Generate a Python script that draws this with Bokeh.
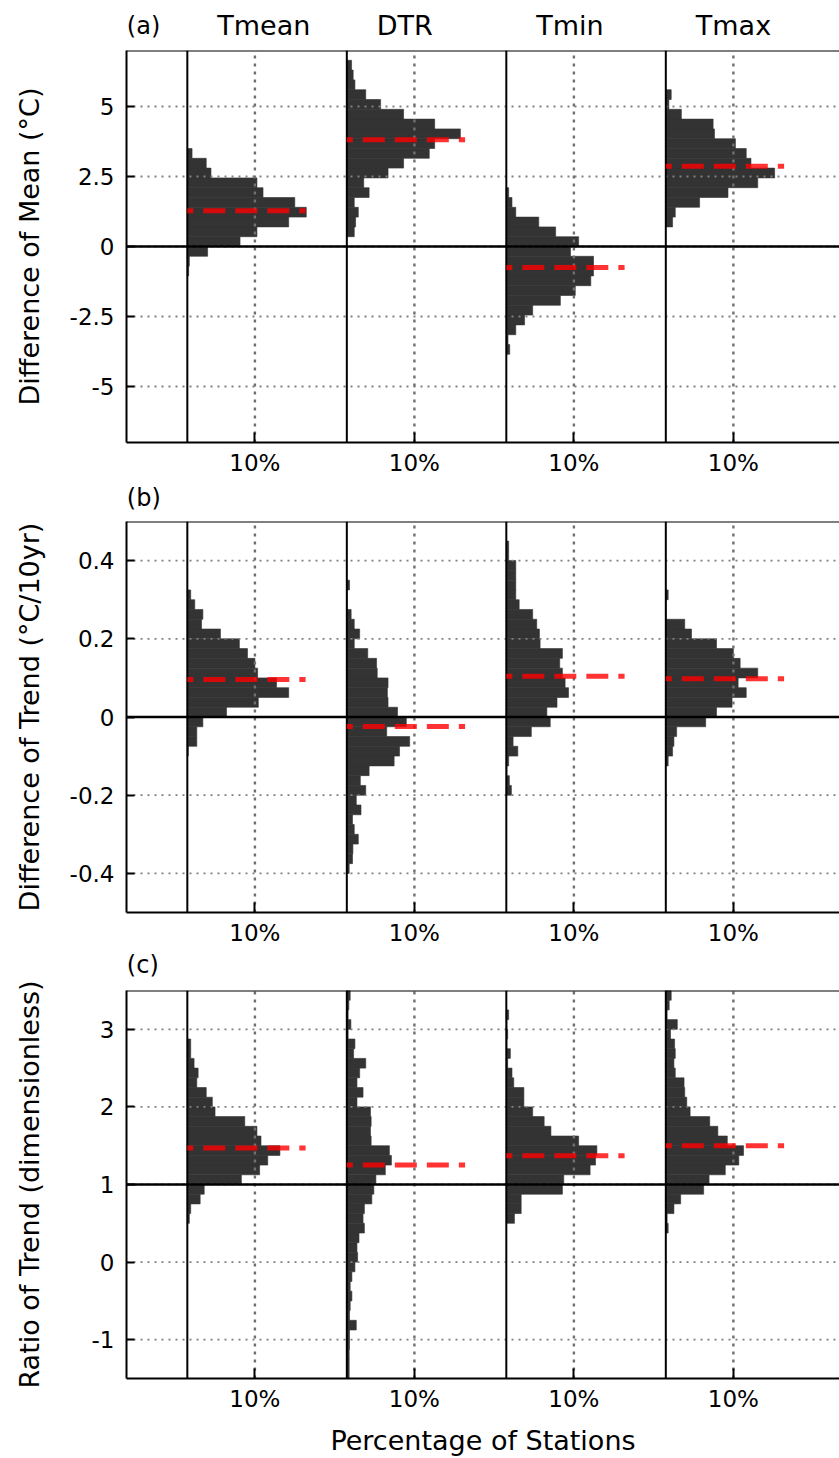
from bokeh.plotting import figure
from bokeh.layouts import column
from bokeh.models import Span, FixedTicker, CustomJSTickFormatter, Range1d
from bokeh.core.properties import value
from bokeh.embed import file_html
from bokeh.resources import INLINE

# ---------------- data ----------------
VARIABLES = ["Tmean", "DTR", "Tmin", "Tmax"]
PANEL_TAGS = ["(a)", "(b)", "(c)"]
Y_LABELS = ["Difference of Mean (°C)", "Difference of Trend (°C/10yr)",
            "Ratio of Trend (dimensionless)"]
X_LABEL = "Percentage of Stations"
X_TICK_VALUE = 10
X_TICK_LABEL = "10%"

# panel (a): difference of mean, bins of 0.35 degC
A_RANGE = (-7.0, 7.0)
A_BIN = 0.35
A_TICKS = [-5, -2.5, 0, 2.5, 5]
A_REF = 0
A_TMEAN_START = -1.05
A_TMEAN = [0.2, 0.3, 3.0, 7.8, 10.3, 15.0, 17.6, 15.9, 11.2, 10.3, 3.5, 2.8, 0.7]
A_DTR_START = 0.35
A_DTR = [1.1, 1.3, 1.7, 1.1, 3.3, 2.5, 6.1, 8.4, 12.2, 13.0, 16.8, 13.0, 8.4, 5.0,
         2.8, 1.2, 0.94, 0.7]
A_TMIN_START = -3.85
A_TMIN = [0.5, 0.25, 1.4, 2.7, 3.9, 8.0, 10.2, 12.5, 12.9, 12.9, 9.5, 10.7, 7.3,
          4.8, 1.4, 0.84, 0.35]
A_TMAX_START = 0.7
A_TMAX = [1.0, 1.4, 5.0, 9.2, 13.6, 16.1, 12.6, 11.9, 10.3, 7.2, 7.0, 2.3, 0.45, 0.8]
A_MEANS = [1.28, 3.81, -0.75, 2.87]

# panel (b): difference of trend, bins of 0.025 degC/10yr
B_RANGE = (-0.5, 0.5)
B_BIN = 0.025
B_TICKS = [-0.4, -0.2, 0, 0.2, 0.4]
B_REF = 0
B_TMEAN_START = -0.1
B_TMEAN = [0.15, 1.4, 1.4, 2.3, 5.8, 10.5, 15.0, 13.2, 10.4, 10.0, 8.9, 7.7, 4.9,
           2.1, 2.3, 1.1, 0.5]
B_DTR_START = -0.4
B_DTR = [0.35, 0.84, 0.9, 1.7, 1.1, 0.84, 2.1, 1.4, 2.8, 2.0, 3.3, 7.0, 7.8, 9.3,
         5.9, 8.8, 7.5, 6.1, 6.0, 6.1, 4.5, 4.4, 3.1, 1.1, 1.9, 1.1, 0.64, 0, 0, 0.4]
B_TMIN_START = -0.2
B_TMIN = [0.75, 0.45, 0.1, 0.35, 1.7, 1.0, 3.7, 6.5, 6.0, 7.5, 9.2, 8.7, 8.3, 7.9,
          8.3, 5.0, 4.9, 4.5, 3.9, 1.9, 1.4, 1.4, 1.4, 1.4, 0.35, 0.35]
B_TMAX_START = -0.125
B_TMAX = [0.35, 1.0, 1.2, 1.6, 5.9, 7.5, 9.8, 11.9, 10.7, 13.6, 11.0, 10.0, 7.5,
          3.8, 2.8, 0, 0, 0.35]
B_MEANS = [0.096, -0.024, 0.104, 0.098]

# panel (c): ratio of trend, bins of 0.125
C_RANGE = (-1.5, 3.5)
C_BIN = 0.125
C_TICKS = [-1, 0, 1, 2, 3]
C_REF = 1
C_TMEAN_START = 0.5
C_TMEAN = [0.3, 0.5, 1.9, 2.5, 8.0, 10.7, 11.9, 13.7, 10.9, 10.3, 8.5, 4.1, 3.7,
           2.8, 1.4, 1.6, 1.0, 0.5, 0.5]
C_DTR_START = -1.5
C_DTR = [0.35, 0.35, 0.35, 0.4, 0.4, 1.4, 0.4, 0.5, 0.75, 0.5, 0.75, 1.2, 1.6, 1.5,
         1.8, 2.6, 2.4, 2.6, 3.7, 4.0, 4.3, 5.7, 6.6, 6.3, 3.6, 3.5, 3.6, 3.5, 1.5,
         2.4, 1.5, 1.9, 2.8, 1.0, 1.2, 0.2, 0.6, 0.2, 0.3, 0.5]
C_TMIN_START = 0.5
C_TMIN = [1.2, 2.2, 2.2, 8.3, 8.5, 12.4, 13.2, 13.4, 10.7, 6.6, 5.6, 3.9, 2.6, 2.6,
          1.1, 0.84, 0.2, 0.6, 0.1, 0.2, 0.1, 0.35]
C_TMAX_START = 0.375
C_TMAX = [0.35, 0.2, 1.2, 2.2, 5.6, 6.4, 8.8, 10.8, 11.5, 9.1, 7.7, 6.5, 3.6, 3.1,
          2.8, 2.7, 1.4, 1.2, 1.4, 1.3, 0.7, 1.7, 0.2, 0.5, 0.8]
C_MEANS = [1.47, 1.25, 1.37, 1.50]

# ---------------- layout / style ----------------
FONT = "DejaVu Sans"
BAR_COLOR = "#333333"
GRID_COLOR = "#808080"
X_START, X_END = -9.0, 96.5     # percent units
COL_STEP = 23.6                 # percent units between column baselines
RED_LEN = 17.5
FIG_W = 839
LEFT = 126
FRAME_W = FIG_W - LEFT
PX_PER_X = FRAME_W / (X_END - X_START)
OFFSETS = [i * COL_STEP for i in range(len(VARIABLES))]

PANELS = [
    dict(rng=A_RANGE, bin=A_BIN, ticks=A_TICKS, ref=A_REF, means=A_MEANS,
         series=[(A_TMEAN_START, A_TMEAN), (A_DTR_START, A_DTR),
                 (A_TMIN_START, A_TMIN), (A_TMAX_START, A_TMAX)],
         head=48, head_y=25, pad=2, frame=392, bottom=37, ylab_standoff=22),
    dict(rng=B_RANGE, bin=B_BIN, ticks=B_TICKS, ref=B_REF, means=B_MEANS,
         series=[(B_TMEAN_START, B_TMEAN), (B_DTR_START, B_DTR),
                 (B_TMIN_START, B_TMIN), (B_TMAX_START, B_TMAX)],
         head=40, head_y=18, pad=2, frame=392, bottom=35, ylab_standoff=22),
    dict(rng=C_RANGE, bin=C_BIN, ticks=C_TICKS, ref=C_REF, means=C_MEANS,
         series=[(C_TMEAN_START, C_TMEAN), (C_DTR_START, C_DTR),
                 (C_TMIN_START, C_TMIN), (C_TMAX_START, C_TMAX)],
         head=30, head_y=16, pad=12, frame=393, bottom=75, ylab_standoff=44),
]


def make_header(idx, cfg):
    h = cfg["head"]
    p = figure(width=FIG_W, height=h, output_backend="svg",
               toolbar_location=None, x_axis_type=None, y_axis_type=None,
               x_range=Range1d(X_START, X_END), y_range=Range1d(0, h),
               min_border_left=LEFT, min_border_right=0,
               min_border_top=0, min_border_bottom=0)
    p.outline_line_color = None
    p.grid.visible = False
    p.border_fill_color = "white"
    p.background_fill_color = "white"
    ty = h - cfg["head_y"]
    p.text(x=[X_START + 0.05], y=[ty], text=[PANEL_TAGS[idx]],
           text_font=value(FONT), text_font_size=value("24px"),
           text_align="left", text_baseline="middle", text_color="black")
    if idx == 0:
        p.text(x=[o + 30 / PX_PER_X for o in OFFSETS], y=[ty] * len(OFFSETS),
               text=VARIABLES, text_font=value(FONT),
               text_font_size=value("27px"), text_align="left",
               text_baseline="middle", text_color="black")
    return p


def make_panel(idx, cfg):
    ymin, ymax = cfg["rng"]
    height = cfg["pad"] + cfg["frame"] + cfg["bottom"]
    p = figure(width=FIG_W, height=height, output_backend="svg",
               toolbar_location=None,
               x_range=Range1d(X_START, X_END), y_range=Range1d(ymin, ymax),
               min_border_left=LEFT, min_border_right=0,
               min_border_top=cfg["pad"], min_border_bottom=cfg["bottom"])
    p.outline_line_color = None
    p.grid.visible = False
    p.background_fill_color = "white"
    p.border_fill_color = "white"

    # histogram bars
    for off, (start, vals) in zip(OFFSETS, cfg["series"]):
        ys = [start + (i + 0.5) * cfg["bin"] for i in range(len(vals))]
        p.hbar(y=ys, height=cfg["bin"], left=off,
               right=[off + v for v in vals],
               fill_color=BAR_COLOR, line_color=BAR_COLOR, line_width=0.6)

    # dotted grid (drawn over bars)
    hx0 = [X_START] * len(cfg["ticks"])
    hx1 = [X_END] * len(cfg["ticks"])
    p.segment(x0=hx0, x1=hx1, y0=cfg["ticks"], y1=cfg["ticks"],
              line_color=GRID_COLOR, line_width=1.8, line_dash="2 5")
    vx = [off + X_TICK_VALUE for off in OFFSETS]
    p.segment(x0=vx, x1=vx, y0=[ymin] * len(vx), y1=[ymax] * len(vx),
              line_color="#707070", line_width=2.4, line_dash="3 5")

    # solid reference lines
    p.segment(x0=OFFSETS, x1=OFFSETS, y0=[ymin] * len(OFFSETS),
              y1=[ymax] * len(OFFSETS), line_color="black", line_width=2)
    p.segment(x0=[X_START], x1=[X_END], y0=[cfg["ref"]], y1=[cfg["ref"]],
              line_color="black", line_width=2.5)

    # mean lines
    p.segment(x0=OFFSETS, x1=[o + RED_LEN for o in OFFSETS],
              y0=cfg["means"], y1=cfg["means"], line_color="red",
              line_alpha=0.8, line_width=5, line_dash="22 10",
              line_dash_offset=16)

    # top spine
    p.add_layout(Span(location=ymax, dimension="width", line_color="black",
                      line_width=2))

    # axes
    xa, ya = p.xaxis[0], p.yaxis[0]
    for ax in (xa, ya):
        ax.axis_line_width = 2
        ax.axis_line_color = "black"
        ax.major_tick_line_width = 2
        ax.major_tick_line_color = "black"
        ax.major_tick_out = 0
        ax.minor_tick_line_color = None
        ax.major_label_text_font = FONT
        ax.major_label_text_font_size = "23px"
        ax.major_label_text_color = "black"
        ax.axis_label_text_font = FONT
        ax.axis_label_text_font_size = "27px"
        ax.axis_label_text_font_style = "normal"
        ax.axis_label_text_color = "black"
    xa.ticker = FixedTicker(ticks=vx)
    xa.formatter = CustomJSTickFormatter(code="return '%s';" % X_TICK_LABEL)
    xa.major_tick_in = 10
    xa.major_label_standoff = 7
    ya.ticker = FixedTicker(ticks=cfg["ticks"])
    ya.formatter = CustomJSTickFormatter(code="return tick.toString();")
    ya.major_tick_in = 8
    ya.major_label_standoff = 12
    ya.axis_label = Y_LABELS[idx]
    ya.axis_label_standoff = cfg["ylab_standoff"]
    if idx == len(PANELS) - 1:
        xa.axis_label = X_LABEL
        xa.axis_label_standoff = 10
    return p


items = []
for i, cfg in enumerate(PANELS):
    items.append(make_header(i, cfg))
    items.append(make_panel(i, cfg))
layout = column(*items, spacing=0)
open("out.html", "w").write(file_html(layout, INLINE))
